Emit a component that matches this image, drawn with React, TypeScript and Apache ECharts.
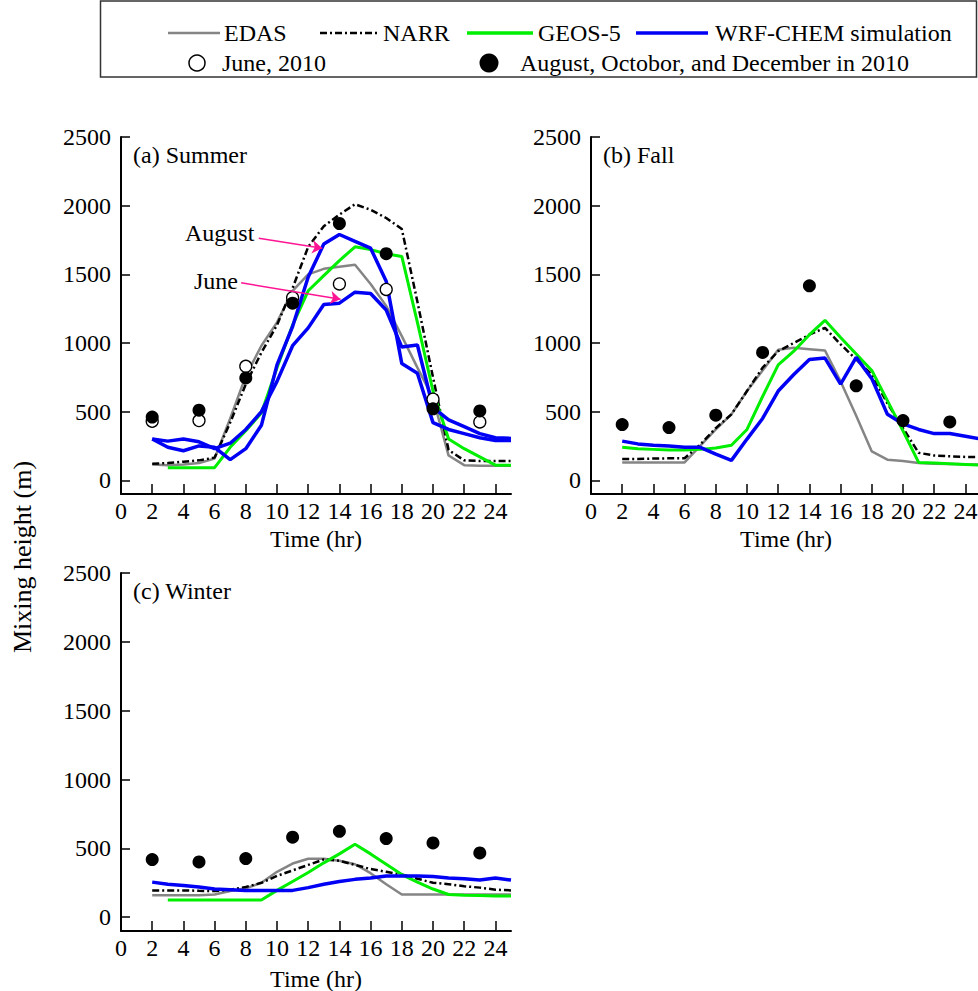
import React, { useEffect, useRef } from 'react';
import * as echarts from 'echarts';

const hours = [2, 3, 4, 5, 6, 7, 8, 9, 10, 11, 12, 13, 14, 15, 16, 17, 18, 19, 20, 21, 22, 23, 24, 25];
const obsHours = [2, 5, 8, 11, 14, 17, 20, 23];
const xTicks = [0, 2, 4, 6, 8, 10, 12, 14, 16, 18, 20, 22, 24];
const yTicks = [0, 500, 1000, 1500, 2000, 2500];

// (a) Summer
const edasA = [115, 110, 115, 125, 158, 450, 760, 980, 1150, 1380, 1500, 1540, 1555, 1570, 1430, 1270, 1050, 820, 600, 180, 110, 105, 105, 105];
const narrA = [120, 125, 135, 145, 165, 420, 700, 930, 1130, 1400, 1700, 1850, 1935, 2010, 1970, 1910, 1830, 1300, 750, 220, 145, 140, 140, 140];
const geosA = [null, 92, 92, 92, 92, 240, 360, 490, 820, 1130, 1380, 1490, 1600, 1700, 1680, 1650, 1630, 1150, 650, 300, 230, 170, 110, 110];
const wrfAugA = [300, 240, 215, 250, 240, 150, 230, 400, 840, 1120, 1480, 1720, 1790, 1740, 1690, 1450, 850, 780, 420, 370, 340, 310, 290, 290];
const wrfJunA = [300, 285, 300, 280, 230, 270, 370, 500, 720, 980, 1110, 1280, 1290, 1370, 1360, 1240, 970, 985, 530, 440, 390, 340, 310, 305];
const obsJuneA = [430, 435, 830, 1330, 1430, 1390, 590, 425];
const obsAugA = [460, 510, 745, 1290, 1870, 1650, 520, 505];

// (b) Fall
const edasB = [130, 130, 130, 130, 130, 250, 370, 480, 650, 800, 950, 965, 955, 945, 720, 470, 210, 150, 140, 125, 120, 118, 116, 115];
const narrB = [155, 155, 158, 160, 160, 260, 380, 480, 650, 820, 940, 1000, 1060, 1110, 990, 880, 770, 560, 380, 200, 180, 175, 170, 170];
const geosB = [240, 230, 225, 220, 220, 225, 235, 255, 370, 610, 840, 940, 1060, 1165, 1040, 920, 800, 580, 360, 130, 125, 120, 115, 110];
const wrfB = [285, 265, 255, 250, 240, 240, 190, 145, 300, 450, 650, 770, 880, 890, 700, 895, 740, 480, 410, 370, 340, 340, 320, 300];
const obsB = [406, 384, 474, 931, 1416, 688, 435, 425];

// (c) Winter
const edasC = [160, 160, 160, 160, 165, 190, 210, 250, 330, 390, 425, 425, 410, 385, 320, 240, 165, 165, 165, 165, 165, 165, 165, 165];
const narrC = [195, 195, 195, 192, 190, 200, 220, 250, 300, 340, 380, 420, 410, 380, 350, 330, 310, 280, 250, 240, 225, 215, 200, 195];
const geosC = [null, 125, 125, 125, 125, 125, 125, 125, 195, 260, 325, 395, 460, 530, 460, 385, 310, 255, 205, 165, 160, 158, 155, 155];
const wrfC = [255, 240, 230, 220, 205, 200, 195, 195, 195, 195, 215, 240, 260, 275, 285, 300, 300, 300, 295, 285, 280, 270, 285, 270];
const obsC = [419, 402, 426, 581, 624, 571, 540, 467];

// annotation arrows in data space (panel a)
const augArrow = [[8.83, 1762], [12.9, 1689]];
const junArrow = [[7.7, 1438], [14.07, 1319]];

const F = '"Liberation Serif", "Times New Roman", serif';
const FS = 24;
const GRAY = '#858585';
const GREEN = '#00ee00';
const BLUE = '#0000f5';
const NARR_DASH = [7, 3, 2, 3];

function pairs(xs: number[], ys: (number | null)[]) {
  const out: number[][] = [];
  xs.forEach((x, i) => {
    const v = ys[i];
    if (v !== null && v !== undefined) out.push([x, v]);
  });
  return out;
}

function lineSeries(name: string, idx: number, vals: (number | null)[], style: any, extra: any = {}) {
  return {
    type: 'line',
    name,
    xAxisIndex: idx,
    yAxisIndex: idx,
    data: pairs(hours, vals),
    showSymbol: false,
    symbol: 'none',
    silent: true,
    z: 2,
    lineStyle: style,
    ...extra,
  };
}

function scatterSeries(name: string, idx: number, vals: number[], filled: boolean) {
  return {
    type: 'scatter',
    name,
    xAxisIndex: idx,
    yAxisIndex: idx,
    data: pairs(obsHours, vals),
    symbol: 'circle',
    symbolSize: filled ? 13 : 12,
    silent: true,
    z: filled ? 4 : 3,
    itemStyle: filled
      ? { color: '#000', opacity: 1 }
      : { color: '#fff', borderColor: '#000', borderWidth: 1.3, opacity: 1 },
  };
}

const plain = (v: number) => String(v);

function xAxis(idx: number, gap: number) {
  return {
    type: 'value',
    gridIndex: idx,
    min: 0,
    max: 25,
    name: 'Time (hr)',
    nameLocation: 'middle',
    nameGap: gap,
    nameMoveOverlap: false,
    nameTextStyle: { fontFamily: F, fontSize: FS, color: '#000', fontWeight: 'normal' },
    axisLine: { show: true, onZero: false, lineStyle: { color: '#000', width: 2 } },
    axisTick: { show: true, inside: true, length: 10, customValues: xTicks, lineStyle: { color: '#000', width: 1.5 } },
    axisLabel: { show: true, customValues: xTicks, formatter: plain, fontFamily: F, fontSize: FS, color: '#000', margin: 5 },
    splitLine: { show: false },
  };
}

function yAxis(idx: number) {
  return {
    type: 'value',
    gridIndex: idx,
    min: -100,
    max: 2500,
    axisLine: { show: true, onZero: false, lineStyle: { color: '#000', width: 2 } },
    axisTick: { show: true, inside: true, length: 9, customValues: yTicks, lineStyle: { color: '#000', width: 1.5 } },
    axisLabel: { show: true, customValues: yTicks, formatter: plain, fontFamily: F, fontSize: FS, color: '#000', margin: 10 },
    splitLine: { show: false },
  };
}

function txt(text: string, x: number, y: number, extra: any = {}) {
  return {
    type: 'text',
    x,
    y,
    silent: true,
    z: 10,
    ...extra,
    style: {
      text,
      fill: '#000',
      fontFamily: F,
      fontSize: FS,
      fontWeight: 'normal',
      textAlign: 'left',
      textVerticalAlign: 'middle',
      align: 'left',
      verticalAlign: 'middle',
      ...(extra.style || {}),
    },
  };
}

function hline(x1: number, x2: number, y: number, style: any) {
  return { type: 'line', silent: true, z: 10, shape: { x1, y1: y, x2, y2: y }, style };
}

export default function App() {
  const ref = useRef<HTMLDivElement>(null);
  useEffect(() => {
    document.body.style.margin = '0';
    const chart = echarts.init(ref.current!, null, { renderer: 'svg' });

    const edasStyle = { color: GRAY, width: 2.5 };
    const narrStyle = { color: '#000', width: 2.5, type: NARR_DASH };
    const geosStyle = { color: GREEN, width: 3 };
    const wrfStyle = { color: BLUE, width: 3.5 };

    const option: any = {
      animation: false,
      backgroundColor: '#fff',
      grid: [
        { left: 121, top: 137, width: 390, height: 357, outerBoundsMode: 'none', containLabel: false },
        { left: 591, top: 137, width: 390, height: 357, outerBoundsMode: 'none', containLabel: false },
        { left: 121, top: 573, width: 390, height: 358, outerBoundsMode: 'none', containLabel: false },
      ],
      xAxis: [xAxis(0, 33), xAxis(1, 33), xAxis(2, 36)],
      yAxis: [yAxis(0), yAxis(1), yAxis(2)],
      series: [
        lineSeries('EDAS', 0, edasA, edasStyle),
        lineSeries('NARR', 0, narrA, narrStyle),
        lineSeries('GEOS-5', 0, geosA, geosStyle),
        lineSeries('WRF-CHEM simulation (June)', 0, wrfJunA, wrfStyle),
        lineSeries('WRF-CHEM simulation (August)', 0, wrfAugA, wrfStyle, {
          markLine: {
            silent: true,
            symbol: ['none', 'arrow'],
            symbolSize: 10,
            label: { show: false },
            emphasis: { disabled: true },
            lineStyle: { color: '#ff1493', width: 1.5, type: 'solid' },
            data: [
              [{ coord: augArrow[0] }, { coord: augArrow[1] }],
              [{ coord: junArrow[0] }, { coord: junArrow[1] }],
            ],
          },
        }),
        scatterSeries('June, 2010', 0, obsJuneA, false),
        scatterSeries('August 2010', 0, obsAugA, true),

        lineSeries('EDAS', 1, edasB, edasStyle),
        lineSeries('NARR', 1, narrB, narrStyle),
        lineSeries('GEOS-5', 1, geosB, geosStyle),
        lineSeries('WRF-CHEM simulation', 1, wrfB, wrfStyle),
        scatterSeries('October 2010', 1, obsB, true),

        lineSeries('EDAS', 2, edasC, edasStyle),
        lineSeries('NARR', 2, narrC, narrStyle),
        lineSeries('GEOS-5', 2, geosC, geosStyle),
        lineSeries('WRF-CHEM simulation', 2, wrfC, wrfStyle),
        scatterSeries('December 2010', 2, obsC, true),
      ],
      graphic: [
        {
          type: 'rect',
          silent: true,
          z: 9,
          shape: { x: 100.5, y: 1, width: 876, height: 76 },
          style: { fill: 'none', stroke: '#333', lineWidth: 1.5 },
        },
        hline(168, 220, 33, { stroke: GRAY, lineWidth: 2.5 }),
        txt('EDAS', 224, 33),
        hline(320, 378, 33, { stroke: '#000', lineWidth: 2.5, lineDash: NARR_DASH }),
        txt('NARR', 383, 33),
        hline(467, 533, 33, { stroke: GREEN, lineWidth: 3.5 }),
        txt('GEOS-5', 538, 33),
        hline(636, 708, 33, { stroke: BLUE, lineWidth: 3.5 }),
        txt('WRF-CHEM simulation', 715, 33),
        { type: 'circle', silent: true, z: 10, shape: { cx: 197, cy: 63, r: 8 }, style: { fill: '#fff', stroke: '#000', lineWidth: 1.5 } },
        txt('June, 2010', 222, 63),
        { type: 'circle', silent: true, z: 10, shape: { cx: 489, cy: 63, r: 9.5 }, style: { fill: '#000' } },
        txt('August, Octobor, and December in 2010', 520, 63),

        txt('(a) Summer', 133, 155),
        txt('(b) Fall', 603, 155),
        txt('(c) Winter', 133, 591),
        txt('August', 185, 233),
        txt('June', 194, 281),
        txt('Mixing height (m)', 22, 557, {
          rotation: Math.PI / 2,
          style: { fontSize: 26, textAlign: 'center', align: 'center' },
        }),
      ],
    };

    chart.setOption(option);
    return () => chart.dispose();
  }, []);
  return <div ref={ref} style={{ width: 978, height: 991, background: '#fff' }} />;
}
